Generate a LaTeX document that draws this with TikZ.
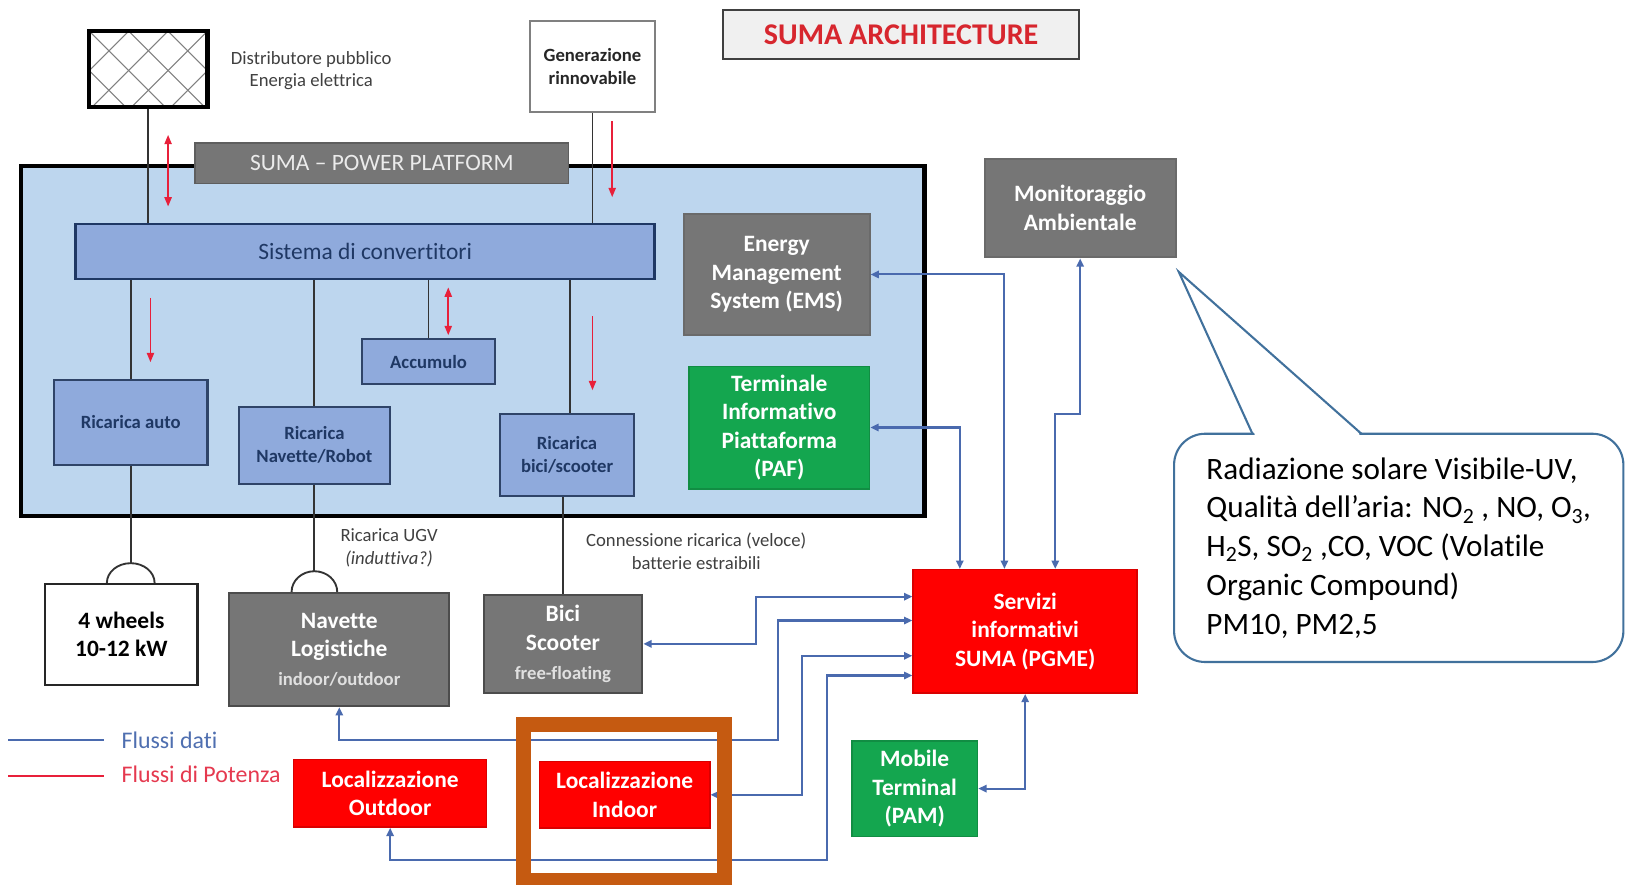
\documentclass[tikz,border=0pt]{standalone}
\usepackage{fontspec}
\setmainfont{Carlito}[Ligatures={TeX,NoCommon}]
\usetikzlibrary{arrows.meta}

\definecolor{platblue}{HTML}{BDD6EE}
\definecolor{midblue}{HTML}{8FAADC}
\definecolor{navy}{HTML}{1F3864}
\definecolor{navyline}{HTML}{2F4468}
\definecolor{boxgray}{HTML}{767676}
\definecolor{boxgrayline}{HTML}{5E5E5E}
\definecolor{boxgreen}{HTML}{14A64F}
\definecolor{boxred}{HTML}{FF0000}
\definecolor{dataline}{HTML}{4A6AAE}
\definecolor{powerred}{HTML}{E8203A}
\definecolor{titlered}{HTML}{D7262E}
\definecolor{titlefill}{HTML}{F0F0F0}
\definecolor{framebrown}{HTML}{C55A11}
\definecolor{calloutblue}{HTML}{41719C}
\definecolor{labelgray}{HTML}{404040}
\definecolor{wireline}{HTML}{333333}
\definecolor{legendblue}{HTML}{4F6FB0}
\definecolor{legendred}{HTML}{E5394F}

\newcommand\fntTitle{\fontsize{29}{35}\selectfont\bfseries}
\newcommand\fntBig{\fontsize{22.6}{27.5}\selectfont\bfseries}
\newcommand\fntSmallB{\fontsize{18}{22}\selectfont\bfseries}
\newcommand\fntSmall{\fontsize{18}{22}\selectfont}
\newcommand\fntBar{\fontsize{22.6}{27}\selectfont}
\newcommand\fntCallout{\fontsize{30}{37.3}\selectfont}
\newcommand\fntLegend{\fontsize{23}{27}\selectfont}

\begin{document}
\begin{tikzpicture}[x=1pt,y=-1pt,
  box/.style 2 args={draw, inner sep=0pt, align=center,
    minimum width=#1pt, minimum height=#2pt},
  bluebox/.style={fill=midblue, draw=navyline, line width=2pt,
    text=navy, font=\fntSmallB},
  graybox/.style={fill=boxgray, draw=boxgrayline, line width=2pt,
    text=white, font=\fntBig},
  greenbox/.style={fill=boxgreen, draw=boxgreen!85!black, line width=1.5pt,
    text=white, font=\fntBig},
  redbox/.style={fill=boxred, draw=boxred!85!black, line width=1.5pt,
    text=white, font=\fntBig},
  wire/.style={draw=wireline, line width=1.8pt},
  data/.style={draw=dataline, line width=2pt,
    {Triangle[length=8pt,width=7pt]}-{Triangle[length=8pt,width=7pt]}},
  pflow/.style={draw=powerred, line width=1.5pt,
    -{Triangle[length=9pt,width=7pt]}},
  pflowboth/.style={draw=powerred, line width=1.5pt,
    {Triangle[length=9pt,width=7pt]}-{Triangle[length=9pt,width=7pt]}},
  note/.style={font=\fntSmall, text=labelgray, align=center}
]
\useasboundingbox (0,0) rectangle (1568,852);
\fill[white] (0,0) rectangle (1568,852);

% ---------- title ----------
\node[box={343}{47}, fill=titlefill, draw=labelgray, line width=2pt,
  text=titlered, font=\fntTitle] (title) at (868.5,33.5) {SUMA ARCHITECTURE};

% ---------- public grid (hatched) ----------
\begin{scope}
  \clip (86,30) rectangle (200,103);
  \foreach \o in {-114,-76,-38,0,38,76,114,152} {
    \draw[gray, line width=1pt] ({86+\o},30) -- ({159+\o},103);
    \draw[gray, line width=1pt] ({200-\o},30) -- ({127-\o},103);
  }
\end{scope}
\node[box={114}{73}, line width=4pt, draw=black] (grid) at (143,66.5) {};
\node[note] (gridlbl) at (300,68) {Distributore pubblico\\Energia elettrica};

% ---------- renewable generation ----------
\node[box={120}{88}, draw=gray, line width=2pt, fill=white,
  font=\fntSmallB, text=black!85] (gen) at (571,64) {Generazione\\rinnovabile};

% ---------- power platform ----------
\node[box={871}{337}, line width=4pt, draw=black, fill=platblue] (plat) at (455.5,328.5) {};
\node[box={360}{39}, fill=boxgray, draw=boxgrayline, line width=1.5pt,
  text=white!92!black, font=\fntBar] (ppbar) at (368,157.5) {SUMA – POWER PLATFORM};

% converters and chargers
\node[box={558}{53}, fill=midblue, draw=navy, line width=2.5pt,
  text=navy, font=\fntBar] (conv) at (352,242.5) {Sistema di convertitori};
\node[box={148}{82}, bluebox] (rauto) at (126,407) {Ricarica auto};
\node[box={146}{74}, bluebox] (rnav) at (303,429) {Ricarica\\Navette/Robot};
\node[box={128}{43}, bluebox] (accu) at (413,348.5) {Accumulo};
\node[box={129}{79}, bluebox] (rbici) at (546.5,438.5) {Ricarica\\bici/scooter};

\draw[wire] (grid.south) -- (grid.south |- conv.north);
\draw[wire] (gen.south) -- (gen.south |- conv.north);
\draw[wire] (rauto.north |- conv.south) -- (rauto.north);
\draw[wire] (rnav.north |- conv.south) -- (rnav.north);
\draw[wire] (accu.north |- conv.south) -- (accu.north);
\draw[wire] ([xshift=2.5pt]rbici.north |- conv.south) -- ([xshift=2.5pt]rbici.north);

% ---------- EMS / PAF / monitoring ----------
\node[box={179}{117}, graybox, draw=boxgray!90!black] (ems) at (748.5,264.5) {Energy\\Management\\System (EMS)};
\node[box={174}{118}, greenbox] (paf) at (751,412) {Terminale\\Informativo\\Piattaforma\\(PAF)};
\node[box={184}{95}, graybox, draw=boxgray!90!black] (monit) at (1041,200.5) {Monitoraggio\\Ambientale};

% ---------- vehicles ----------
\node[box={147}{97}, fill=white, draw=black!85, line width=2.5pt,
  font=\fntBig, text=black] (wheels) at (117,611.5) {4 wheels\\10-12 kW};
\node[box={212}{109}, graybox, draw=black!70] (navl) at (327,626) {Navette\\Logistiche\\{\fntSmallB\color{white!88!black}indoor/outdoor}};
\node[box={153}{95}, graybox, draw=black!70] (bici) at (542.5,620.5) {Bici\\Scooter\\{\fntSmallB\color{white!88!black}free-floating}};

\coordinate (plugA) at (wheels.north -| rauto.south);
\coordinate (plugB) at (navl.north -| rnav.south);
\draw[wire] (rauto.south) -- ([yshift=19pt]plugA);
\draw[wire] ([xshift=-23pt]plugA) arc[start angle=180, end angle=360, x radius=23, y radius=19];
\draw[wire] (rnav.south) -- ([yshift=20pt]plugB);
\draw[wire] ([xshift=-22pt]plugB) arc[start angle=180, end angle=360, x radius=22, y radius=20];
\draw[wire] (rbici.south -| bici.north) -- (bici.north);

\node[note] (ugvlbl) at (375,528) {Ricarica UGV\\\itshape (induttiva?)};
\node[note] (connlbl) at (671,531) {Connessione ricarica (veloce)\\batterie estraibili};

% ---------- power flow markers ----------
\draw[pflowboth] (162,130) -- (162,199);
\draw[pflow] (590,117) -- (590,190);
\draw[pflow] (145,287) -- (145,349);
\draw[pflowboth] (432,277) -- (432,323);
\draw[pflow] (571,305) -- (571,376);

% ---------- information services ----------
\node[box={216}{119}, redbox] (serv) at (988,608.5) {Servizi\\informativi\\SUMA (PGME)};
\node[box={121}{92}, greenbox] (mobile) at (881.5,760) {Mobile\\Terminal\\(PAM)};
\node[box={186}{65}, redbox] (locout) at (376,764.5) {Localizzazione\\Outdoor};
\node[box={164}{64}, redbox] (locin) at (602,766) {Localizzazione\\Indoor};

% data links
\draw[data] (ems.east) -| ([xshift=-20pt]serv.north);
\draw[data] (paf.east) -| ([xshift=-63pt]serv.north);
\draw[data] (monit.south) -- ++(0,150) -| ([xshift=29pt]serv.north);
\draw[data] (bici.east) -- ++(109,0) |- ([yshift=33.5pt]serv.west);
\draw[data] (navl.south) |- (750,713.5) |- ([yshift=10.5pt]serv.west);
\draw[data] (locin.east) -- ++(88,0) |- ([yshift=-23.5pt]serv.west);
\draw[data] (locout.south) |- (797,829) |- ([yshift=-42.5pt]serv.west);
\draw[data] (mobile.east) -| (serv.south);

% ---------- legend ----------
\draw[dataline, line width=2pt] (8,713) -- (100,713);
\draw[powerred, line width=2pt] (8,748) -- (100,748);
\node[anchor=west, font=\fntLegend, text=legendblue, inner sep=0pt] (legdata) at (117,713) {Flussi dati};
\node[anchor=west, font=\fntLegend, text=legendred, inner sep=0pt] (legpower) at (117,746) {Flussi di Potenza};

% ---------- sensor callout ----------
\node[draw=calloutblue, line width=2pt, rounded corners=30pt, fill=white,
  minimum width=433pt, minimum height=220pt, inner sep=0pt,
  font=\fntCallout, align=left, text=black] (callout) at (1348,528)
  {Radiazione solare Visibile-UV,\\
   Qualità dell’aria: NO\textsubscript{2} , NO, O\textsubscript{3},\\
   H\textsubscript{2}S, SO\textsubscript{2} ,CO, VOC (Volatile\\
   Organic Compound)\\
   PM10, PM2,5};
\coordinate (calloutTip) at (1136,262);
\fill[white] (1209,421) -- (1209,418) -- (calloutTip) -- (1310,418) -- (1310,421) -- cycle;
\draw[calloutblue, line width=2pt, line join=miter] (1207,418) -- (calloutTip) -- (1312,418);

% ---------- highlight frame ----------
\draw[framebrown, line width=14.5pt] (504.2,698.2) rectangle (698.3,848.3);
\end{tikzpicture}
\end{document}
